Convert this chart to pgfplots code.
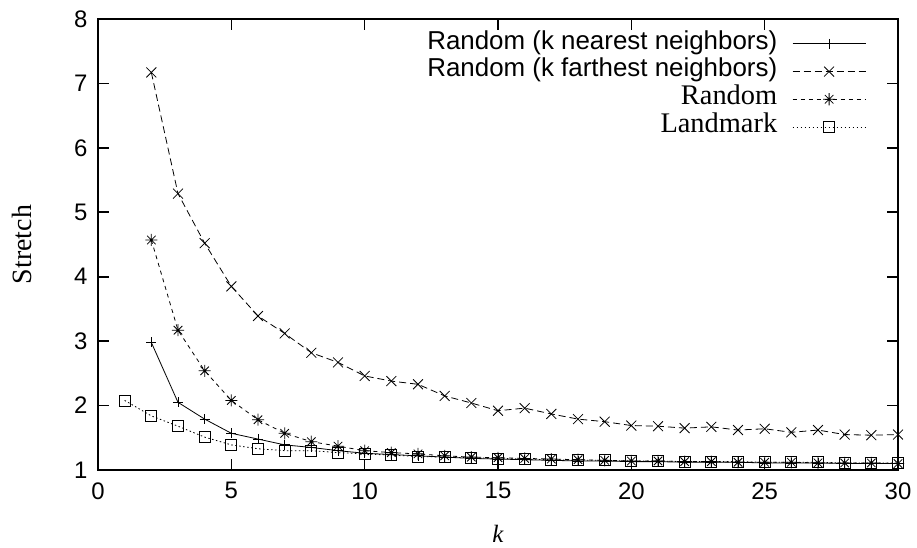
\documentclass[border=0pt]{standalone}
\usepackage{pgfplots}
\pgfplotsset{compat=1.18}
\usepackage{fontspec}
\setmainfont{Liberation Serif}
\setsansfont{Liberation Sans}
\usetikzlibrary{calc}
\pgfdeclareplotmark{gpstar}{%
  \pgfpathmoveto{\pgfqpoint{-\pgfplotmarksize}{0pt}}%
  \pgfpathlineto{\pgfqpoint{\pgfplotmarksize}{0pt}}%
  \pgfpathmoveto{\pgfqpoint{0pt}{-\pgfplotmarksize}}%
  \pgfpathlineto{\pgfqpoint{0pt}{\pgfplotmarksize}}%
  \pgfpathmoveto{\pgfqpoint{-.70710678\pgfplotmarksize}{-.70710678\pgfplotmarksize}}%
  \pgfpathlineto{\pgfqpoint{.70710678\pgfplotmarksize}{.70710678\pgfplotmarksize}}%
  \pgfpathmoveto{\pgfqpoint{-.70710678\pgfplotmarksize}{.70710678\pgfplotmarksize}}%
  \pgfpathlineto{\pgfqpoint{.70710678\pgfplotmarksize}{-.70710678\pgfplotmarksize}}%
  \pgfusepathqstroke}
\begin{document}
\begin{tikzpicture}
\begin{axis}[
  scale only axis,
  width=800bp, height=451bp,
  xmin=0, xmax=30, ymin=1, ymax=8,
  xtick={0,5,...,30}, ytick={1,2,...,8},
  minor tick num=0,
  tick align=inside,
  major tick length=11bp,
  axis line style={line width=1.6bp},
  every tick/.style={line width=1.6bp, black},
  /pgf/number format/assume math mode=true,
  tick label style={font=\fontsize{24}{28}\selectfont\sffamily},
  xticklabel style={yshift=-9bp},
  yticklabel style={xshift=-7bp},
  xlabel={\itshape k},
  ylabel={Stretch},
  label style={font=\fontsize{28}{32}\selectfont},
  xlabel style={font=\fontsize{25}{28}\selectfont, at={(axis description cs:0.5,-0.141)}, anchor=center},
  ylabel style={at={(axis description cs:-0.095,0.5)}, anchor=center},
  legend cell align=right,
  legend plot pos=right,
  legend style={draw=none, fill=none, inner sep=0pt, outer sep=0pt,
    at={(axis description cs:1,1)}, anchor=north east,
    xshift=-32bp, yshift=-11bp,
    font=\fontsize{28.5}{32}\selectfont,
    nodes={inner sep=1bp, text height=18bp, text depth=7.7bp},
    column sep=14bp},
  legend image code/.code={%
    \draw[mark repeat=2,mark phase=2,#1] plot coordinates {(0bp,0bp) (36.5bp,0bp) (73bp,0bp)};},
  every axis plot/.append style={line width=0.8bp, black},
]
\addplot[solid, mark=+, mark size=5bp, mark options={solid}] coordinates {
(2,2.98) (3,2.05) (4,1.79) (5,1.57) (6,1.48) (7,1.39) (8,1.35) (9,1.30) (10,1.26)
(11,1.24) (12,1.22) (13,1.20) (14,1.18) (15,1.17) (16,1.16) (17,1.15) (18,1.14)
(19,1.14) (20,1.13) (21,1.13) (22,1.12) (23,1.12) (24,1.12) (25,1.11) (26,1.11)
(27,1.11) (28,1.10) (29,1.10) (30,1.10)};
\addlegendentry{\fontsize{26}{30}\selectfont\sffamily Random (k nearest neighbors)}
\addplot[dash pattern=on 7bp off 4bp, mark=x, mark size=7bp, mark options={solid}] coordinates {
(2,7.17) (3,5.29) (4,4.52) (5,3.85) (6,3.39) (7,3.12) (8,2.82) (9,2.67) (10,2.46)
(11,2.38) (12,2.33) (13,2.15) (14,2.04) (15,1.92) (16,1.96) (17,1.87) (18,1.79)
(19,1.75) (20,1.69) (21,1.68) (22,1.65) (23,1.67) (24,1.62) (25,1.64) (26,1.585)
(27,1.62) (28,1.55) (29,1.54) (30,1.55)};
\addlegendentry{\fontsize{26}{30}\selectfont\sffamily Random (k farthest neighbors)}
\addplot[dash pattern=on 4bp off 4bp, mark=gpstar, mark size=6bp, mark options={solid}] coordinates {
(2,4.57) (3,3.17) (4,2.54) (5,2.08) (6,1.78) (7,1.57) (8,1.44) (9,1.37) (10,1.30)
(11,1.27) (12,1.25) (13,1.22) (14,1.20) (15,1.19) (16,1.18) (17,1.17) (18,1.16)
(19,1.15) (20,1.14) (21,1.14) (22,1.13) (23,1.13) (24,1.12) (25,1.12) (26,1.12)
(27,1.11) (28,1.11) (29,1.11) (30,1.10)};
\addlegendentry{Random}
\addplot[dash pattern=on 1.5bp off 2.5bp, mark=square, mark size=5.5bp, mark options={solid}] coordinates {
(1,2.08) (2,1.84) (3,1.68) (4,1.51) (5,1.39) (6,1.33) (7,1.30) (8,1.30) (9,1.27) (10,1.25)
(11,1.23) (12,1.21) (13,1.20) (14,1.19) (15,1.18) (16,1.17) (17,1.16) (18,1.15)
(19,1.15) (20,1.14) (21,1.14) (22,1.13) (23,1.13) (24,1.13) (25,1.12) (26,1.12)
(27,1.12) (28,1.11) (29,1.11) (30,1.11)};
\addlegendentry{Landmark}
\coordinate (bl) at (rel axis cs:0,0);
\coordinate (tr) at (rel axis cs:1,1);
\end{axis}
\pgfresetboundingbox
\path[use as bounding box] ($(bl)+(-98bp,-78bp)$) rectangle ($(tr)+(19bp,19bp)$);
\end{tikzpicture}
\end{document}
